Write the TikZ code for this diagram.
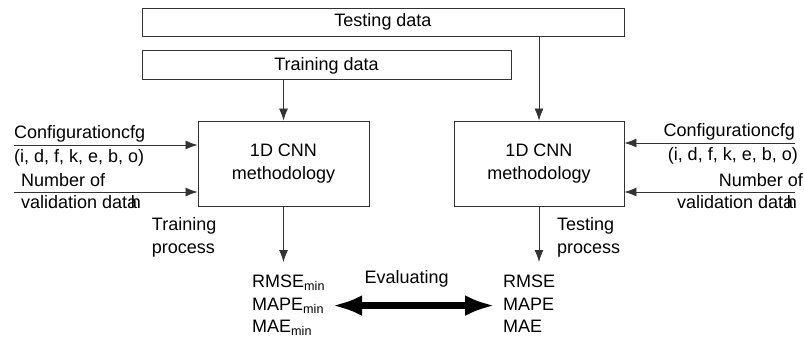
\documentclass[tikz,border=0pt]{standalone}
\usepackage{fontspec}
\setmainfont{Liberation Sans}
\usepackage{tikz}
\usetikzlibrary{positioning,arrows.meta}

\tikzset{
	box/.style={draw=black!80, line width=0.9pt, rectangle, fill=white, inner sep=0pt, align=center},
	lbl/.style={inner sep=0pt, align=left},
	arr/.style={-{Latex[length=12pt,width=9pt]}, draw=black!80, line width=0.8pt},
	bigarr/.style={{Latex[length=30pt,width=21pt]}-{Latex[length=30pt,width=21pt]}, line width=6.5pt}
}

\begin{document}
\begin{tikzpicture}[x=1pt, y=-1pt, font=\fontsize{18}{22.5}\selectfont]

	\useasboundingbox (0,0) rectangle (804,337);

	% \draw[help lines, step=10pt,gray!20] (0,0) grid (804,337);

	\node[box,
	minimum width=482pt,
	minimum height=28pt] (TEST) at (383,22) {Testing data};

	\node[box,
	minimum width=369pt,
	minimum height=29pt] (TRAIN) [below=14pt of TEST.south west, anchor=north west] {Training data};

	\node[box,
	minimum width=171pt,
	minimum height=85pt] (CNN1) at (283.5,163.5) {1D CNN\\methodology};

	\node[box,
	minimum width=170pt,
	minimum height=85pt] (CNN2) at (539,163.5) {1D CNN\\methodology};

	\coordinate (cfgL) at (14,145);
	\coordinate (numL) at (14,192);
	\coordinate (cfgR) at (795,143);
	\coordinate (numR) at (795,192);

	\node[lbl, anchor=south west] (cfgLt) at ([yshift=3pt]cfgL) {Configurationcfg};
	\node[lbl, anchor=north west] (parL) at ([yshift=-4pt]cfgL) {(i, d, f, k, e, b, o)};
	\node[lbl, anchor=south west] (numLt) at ([xshift=7pt,yshift=5pt]numL) {Number of};
	\node[lbl, anchor=north west] (valL) at ([xshift=7pt,yshift=-3pt]numL) {validation data\kern-6.5pt h};

	\node[lbl, anchor=south east] (cfgRt) at ([yshift=3pt]cfgR) {Configurationcfg};
	\node[lbl, anchor=north east] (parR) at ([xshift=3pt,yshift=-4pt]cfgR) {(i, d, f, k, e, b, o)};
	\node[lbl, anchor=south east] (numRt) at ([xshift=8pt,yshift=5pt]numR) {Number of};
	\node[lbl, anchor=north east] (valR) at ([xshift=2pt,yshift=-3pt]numR) {validation data\kern-6.5pt h};

	\node[lbl] (trproc) [below left=11pt and 67pt of CNN1.south] {Training\\process};
	\node[lbl] (teproc) [below right=11pt and 18pt of CNN2.south] {Testing\\process};

	\node[lbl,
	inner xsep=7pt,
	inner ysep=13pt,
	anchor=north west] (METL) at (245,262) {RMSE\textsubscript{min}\\MAPE\textsubscript{min}\\MAE\textsubscript{min}};

	\node[lbl,
	inner xsep=8pt,
	inner ysep=13pt,
	anchor=north west] (METR) at (495,262) {RMSE\\MAPE\\MAE};

	\draw[arr] (TRAIN.south -| CNN1.north) -- (CNN1.north);
	\draw[arr] (TEST.south -| CNN2.north) -- (CNN2.north);
	\draw[arr] (cfgL) -- (cfgL -| CNN1.west);
	\draw[arr] (numL) -- (numL -| CNN1.west);
	\draw[arr] (cfgR) -- (cfgR -| CNN2.east);
	\draw[arr] (numR) -- (numR -| CNN2.east);
	\draw[arr] (CNN1.south) -- (CNN1.south |- METL.north);
	\draw[arr] (CNN2.south) -- (CNN2.south |- METR.north);

	\draw[bigarr] (METL.east) -- (METL.east -| METR.west)
		node[midway, above=15pt, xshift=-7pt, inner sep=0pt] {Evaluating};

\end{tikzpicture}
\end{document}
